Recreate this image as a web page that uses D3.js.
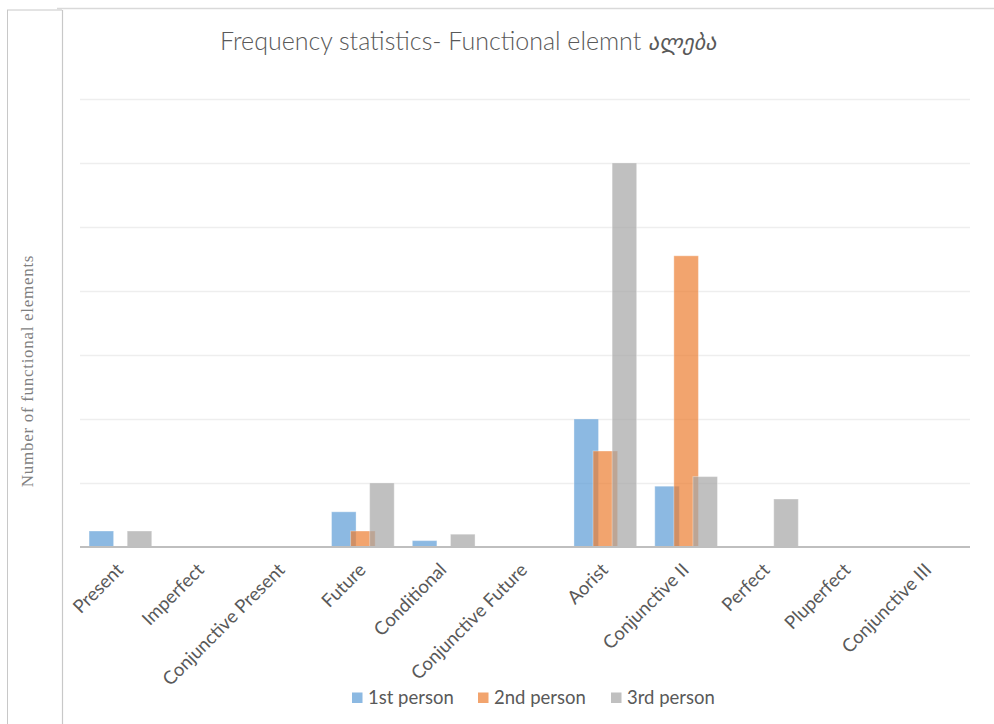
<!DOCTYPE html>
<html>
<head>
<meta charset="utf-8">
<script src="https://cdn.jsdelivr.net/npm/d3@7"></script>
<style>
  html, body { margin: 0; padding: 0; background: #ffffff; }
  svg { display: block; }
</style>
</head>
<body>
<svg id="chart" width="994" height="724"></svg>
<script>
// Tense categories along the x axis
const categories = ["Present", "Imperfect", "Conjunctive Present", "Future", "Conditional",
  "Conjunctive Future", "Aorist", "Conjunctive II", "Perfect", "Pluperfect", "Conjunctive III"];

// Counts of functional elements per grammatical person
const firstPerson  = [5, 0, 0, 11, 2, 0, 40, 19, 0, 0, 0];
const secondPerson = [0, 0, 0, 5, 0, 0, 30, 91, 0, 0, 0];
const thirdPerson  = [5, 0, 0, 20, 4, 0, 120, 22, 15, 0, 0];

const seriesNames = ["1st person", "2nd person", "3rd person"];
const seriesColors = ["#5B9BD5", "#ED7D31", "#A5A5A5"];

// Gridline values (the axis carries no numeric labels)
const yTicks = [0, 20, 40, 60, 80, 100, 120, 140];

const svg = d3.select("#chart");
const W = 994, H = 724;

// Outer frame: narrow panel for the axis title and the main chart panel
const frame = svg.append("g");
frame.append("line").attr("x1", 57).attr("x2", W).attr("y1", 8.5).attr("y2", 8.5)
  .attr("stroke", "#d9d9d9").attr("stroke-width", 1.5);
frame.append("line").attr("x1", 7).attr("x2", 62).attr("y1", 10).attr("y2", 10)
  .attr("stroke", "#c8c8c8").attr("stroke-width", 1);
frame.append("line").attr("x1", 7.5).attr("x2", 7.5).attr("y1", 10).attr("y2", H)
  .attr("stroke", "#c8c8c8").attr("stroke-width", 1);
frame.append("line").attr("x1", 62.5).attr("x2", 62.5).attr("y1", 10).attr("y2", H)
  .attr("stroke", "#c8c8c8").attr("stroke-width", 1.2);

const x = d3.scaleBand().domain(categories).range([80, 969]).padding(0);
const y = d3.scaleLinear().domain([0, 140]).range([547, 99]);

// Horizontal gridlines
svg.append("g").selectAll("line").data(yTicks.slice(1)).join("line")
  .attr("x1", 80).attr("x2", 970)
  .attr("y1", d => Math.round(y(d)) + 0.5).attr("y2", d => Math.round(y(d)) + 0.5)
  .attr("stroke", "#eeeeee").attr("stroke-width", 1.3);

// Overlapping clustered bars
const bw = x.bandwidth();
const barW = bw * 0.304;
const barStep = bw * 0.236;
const groupW = 2 * barStep + barW;
const series = [firstPerson, secondPerson, thirdPerson];

const bars = svg.append("g");
series.forEach((vals, si) => {
  bars.append("g").selectAll("rect")
    .data(vals.map((v, i) => ({ cat: categories[i], v })).filter(d => d.v > 0))
    .join("rect")
    .attr("x", d => x(d.cat) + (bw - groupW) / 2 + si * barStep)
    .attr("y", d => y(d.v))
    .attr("width", barW)
    .attr("height", d => y(0) - y(d.v))
    .attr("fill", seriesColors[si])
    .attr("fill-opacity", 0.7)
    .attr("stroke", "#ffffff")
    .attr("stroke-opacity", 0.35)
    .attr("stroke-width", 1);
});

// Category axis
const xAxis = svg.append("g").attr("transform", `translate(0,${y(0)})`)
  .call(d3.axisBottom(x).tickSize(0).tickSizeOuter(0).tickFormat(""));
xAxis.select(".domain").attr("stroke", "#bfbfbf").attr("stroke-width", 2)
  .attr("d", "M80,0H970");

svg.append("g").selectAll("text").data(categories).join("text")
  .attr("transform", d => `translate(${x(d) + bw / 2 + 4},${571}) rotate(-45)`)
  .attr("text-anchor", "end")
  .attr("font-family", "Lato, 'Open Sans', sans-serif")
  .attr("font-size", 18.5)
  .attr("fill", "#595959")
  .text(d => d);

// Title
const title = svg.append("text")
  .attr("x", 220).attr("y", 50)
  .attr("font-family", "Lato, 'Open Sans', sans-serif")
  .attr("font-weight", 300)
  .attr("font-size", 25)
  .attr("fill", "#595959");
title.append("tspan").text("Frequency statistics- Functional elemnt ");
title.append("tspan").attr("font-family", "'DejaVu Sans', sans-serif")
  .attr("font-style", "italic").attr("font-weight", 200).attr("font-size", 22).text("ალება");

// Vertical axis title
svg.append("text")
  .attr("transform", "translate(33,371) rotate(-90)")
  .attr("text-anchor", "middle")
  .attr("font-family", "'Liberation Serif', 'DejaVu Serif', serif")
  .attr("font-size", 17)
  .attr("letter-spacing", 0.7)
  .attr("fill", "#7f7f7f")
  .text("Number of functional elements");

// Legend
const legendX = [352, 478, 611];
const legend = svg.append("g");
seriesNames.forEach((name, i) => {
  legend.append("rect").attr("x", legendX[i]).attr("y", 692.5).attr("width", 10.5).attr("height", 10.5)
    .attr("fill", seriesColors[i]).attr("fill-opacity", 0.7);
  legend.append("text").attr("x", legendX[i] + 16).attr("y", 703.5)
    .attr("font-family", "Lato, 'Open Sans', sans-serif")
    .attr("font-size", 18.5)
    .attr("fill", "#595959")
    .text(name);
});
</script>
</body>
</html>
